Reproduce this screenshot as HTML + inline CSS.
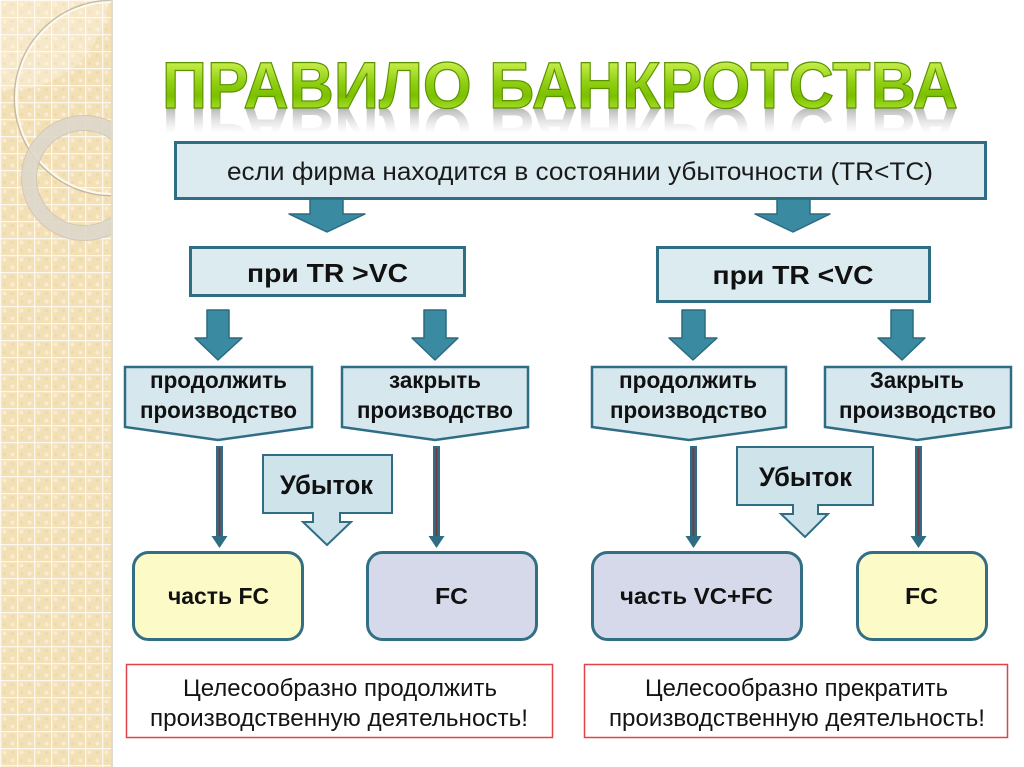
<!DOCTYPE html>
<html>
<head>
<meta charset="utf-8">
<style>
  html,body{margin:0;padding:0;background:#fff;}
  body{width:1024px;height:767px;overflow:hidden;}
  svg{display:block;}
  text{font-family:"Liberation Sans",sans-serif;}
</style>
</head>
<body>
<svg width="1024" height="767" viewBox="0 0 1024 767" xmlns="http://www.w3.org/2000/svg">
  <defs>
    <pattern id="pat" x="0" y="0" width="17" height="17" patternUnits="userSpaceOnUse">
      <rect width="17" height="17" fill="#f3e0b6"/>
      <circle cx="4.5" cy="4.5" r="2" fill="#f9ecd0"/>
      <circle cx="12.5" cy="12.5" r="2" fill="#f9ecd0"/>
      <circle cx="12.5" cy="4.5" r="1.5" fill="#efd9a8"/>
      <circle cx="4.5" cy="12.5" r="1.5" fill="#efd9a8"/>
      <rect x="0" y="0" width="17" height="1.3" fill="#fff" opacity="0.75"/>
      <rect x="0" y="0" width="1.3" height="17" fill="#fff" opacity="0.75"/>
    </pattern>
    <clipPath id="panel"><rect x="0" y="0" width="111" height="767"/></clipPath>
    <linearGradient id="tg" x1="0" y1="60" x2="0" y2="108" gradientUnits="userSpaceOnUse">
      <stop offset="0" stop-color="#cdf250"/>
      <stop offset="0.45" stop-color="#92d014"/>
      <stop offset="0.75" stop-color="#7cc000"/>
      <stop offset="1" stop-color="#a2dc24"/>
    </linearGradient>
    <linearGradient id="rg" x1="0" y1="108" x2="0" y2="82" gradientUnits="userSpaceOnUse">
      <stop offset="0" stop-color="#a8a8a8" stop-opacity="0.85"/>
      <stop offset="1" stop-color="#d8d8d8" stop-opacity="0"/>
    </linearGradient>
  </defs>

  <!-- left decorative panel -->
  <rect x="0" y="0" width="111" height="767" fill="url(#pat)"/>
  <g clip-path="url(#panel)">
    <circle cx="10" cy="-10" r="100" fill="#fff" opacity="0.25"/>
    <circle cx="112" cy="98" r="97" fill="none" stroke="#a89c88" stroke-width="3" opacity="0.6"/>
    <circle cx="112" cy="98" r="96" fill="none" stroke="#fffaf0" stroke-width="2"/>
    <circle cx="84" cy="178" r="55" fill="none" stroke="#ddd7cb" stroke-width="15" opacity="0.9"/>
    <circle cx="84" cy="178" r="62.5" fill="none" stroke="#c9bfad" stroke-width="1" opacity="0.7"/>
    <circle cx="84" cy="178" r="47.5" fill="none" stroke="#c9bfad" stroke-width="1" opacity="0.7"/>
  </g>
  <rect x="111" y="0" width="2" height="767" fill="#d8d2c6" opacity="0.8"/>

  <!-- title -->
  <g transform="translate(0,216) scale(1,-1)">
    <text x="162" y="108" font-size="66" font-weight="bold" textLength="796" lengthAdjust="spacingAndGlyphs" fill="url(#rg)">ПРАВИЛО БАНКРОТСТВА</text>
  </g>
  <text x="162" y="108" font-size="66" font-weight="bold" textLength="796" lengthAdjust="spacingAndGlyphs" fill="url(#tg)" stroke="#5a9200" stroke-width="1.2">ПРАВИЛО БАНКРОТСТВА</text>

  <!-- top box -->
  <rect x="175.5" y="142.5" width="810" height="56" fill="#dcebf0" stroke="#2f6d84" stroke-width="3"/>
  <text x="227" y="180" font-size="25" textLength="706" lengthAdjust="spacingAndGlyphs" fill="#1a1a1a">если фирма находится в состоянии убыточности (TR&lt;TC)</text>

  <!-- top arrows -->
  <g fill="#3a8aa2" stroke="#2a6b80" stroke-width="1.5" stroke-linejoin="round">
    <path d="M310,199 H343 V214 H365 L327,232 L289,214 H310 Z"/>
    <path d="M777,199 H810 V214 H830 L793,232 L755,214 H777 Z"/>
  </g>

  <!-- при boxes -->
  <rect x="190.5" y="247.5" width="274" height="48" fill="#dcebf0" stroke="#2f6d84" stroke-width="3"/>
  <text x="327.5" y="282" font-size="26" font-weight="bold" text-anchor="middle" textLength="161" lengthAdjust="spacingAndGlyphs" fill="#111">при TR &gt;VC</text>
  <rect x="657.5" y="247.5" width="272" height="54" fill="#dcebf0" stroke="#2f6d84" stroke-width="3"/>
  <text x="793" y="284" font-size="26" font-weight="bold" text-anchor="middle" textLength="161" lengthAdjust="spacingAndGlyphs" fill="#111">при TR &lt;VC</text>

  <!-- second level arrows -->
  <g fill="#3a8aa2" stroke="#2a6b80" stroke-width="1.5" stroke-linejoin="round">
    <path d="M207,310 H229 V338 H242 L218,360 L195,338 H207 Z"/>
    <path d="M424,310 H446 V338 H458 L435,360 L412,338 H424 Z"/>
    <path d="M682,310 H705 V338 H717 L693,360 L669,338 H682 Z"/>
    <path d="M891,310 H913 V338 H925 L902,360 L878,338 H891 Z"/>
  </g>

  <!-- pentagons -->
  <g fill="#d6e8ee" stroke="#2f6d84" stroke-width="2.5" stroke-linejoin="miter">
    <path d="M125,367 H312 V427 L218,440 L125,427 Z"/>
    <path d="M342,367 H528 V427 L435,440 L342,427 Z"/>
    <path d="M592,367 H786 V427 L689,440 L592,427 Z"/>
    <path d="M825,367 H1011 V427 L917,440 L825,427 Z"/>
  </g>
  <g font-size="23" font-weight="bold" fill="#111" text-anchor="middle">
    <text x="218.5" y="388" textLength="137" lengthAdjust="spacingAndGlyphs">продолжить</text>
    <text x="218.5" y="418" textLength="157" lengthAdjust="spacingAndGlyphs">производство</text>
    <text x="435" y="388" textLength="92" lengthAdjust="spacingAndGlyphs">закрыть</text>
    <text x="435" y="418" textLength="156" lengthAdjust="spacingAndGlyphs">производство</text>
    <text x="688" y="388" textLength="138" lengthAdjust="spacingAndGlyphs">продолжить</text>
    <text x="688.5" y="418" textLength="157" lengthAdjust="spacingAndGlyphs">производство</text>
    <text x="917" y="388" textLength="94" lengthAdjust="spacingAndGlyphs">Закрыть</text>
    <text x="917.5" y="418" textLength="157" lengthAdjust="spacingAndGlyphs">производство</text>
  </g>

  <!-- connector lines -->
  <g>
    <g stroke="#2f6d84" stroke-width="7">
      <line x1="219.5" y1="446" x2="219.5" y2="540"/>
      <line x1="436.5" y1="446" x2="436.5" y2="540"/>
      <line x1="693.5" y1="446" x2="693.5" y2="540"/>
      <line x1="918.5" y1="446" x2="918.5" y2="540"/>
    </g>
    <g stroke="#7a3a44" stroke-width="2">
      <line x1="219.5" y1="448" x2="219.5" y2="538"/>
      <line x1="436.5" y1="448" x2="436.5" y2="538"/>
      <line x1="693.5" y1="448" x2="693.5" y2="538"/>
      <line x1="918.5" y1="448" x2="918.5" y2="538"/>
    </g>
    <g fill="#2f6d84">
      <path d="M211.5,536 H227.5 L219.5,548 Z"/>
      <path d="M428.5,536 H444.5 L436.5,548 Z"/>
      <path d="M685.5,536 H701.5 L693.5,548 Z"/>
      <path d="M910.5,536 H926.5 L918.5,548 Z"/>
    </g>
  </g>

  <!-- Убыток callouts -->
  <g fill="#cfe3ea" stroke="#2f6d84" stroke-width="2" stroke-linejoin="miter">
    <path d="M263,455 H392 V513 H340 V522 H351 L327,545 L303,522 H313 V513 H263 Z"/>
    <path d="M737,447 H873 V505 H818 V514 H828 L805,537 L781,514 H793 V505 H737 Z"/>
  </g>
  <text x="326.5" y="494" font-size="27" font-weight="bold" text-anchor="middle" textLength="93" lengthAdjust="spacingAndGlyphs" fill="#111">Убыток</text>
  <text x="805.5" y="486" font-size="27" font-weight="bold" text-anchor="middle" textLength="93" lengthAdjust="spacingAndGlyphs" fill="#111">Убыток</text>

  <!-- result boxes -->
  <g stroke="#336f84" stroke-width="3">
    <rect x="133.5" y="552.5" width="169" height="87" rx="15" fill="#fcfac6"/>
    <rect x="367.5" y="552.5" width="169" height="87" rx="15" fill="#d6d9ea"/>
    <rect x="592.5" y="552.5" width="209" height="87" rx="15" fill="#d6d9ea"/>
    <rect x="857.5" y="552.5" width="129" height="87" rx="15" fill="#fcfac6"/>
  </g>
  <g font-size="23" font-weight="bold" fill="#111" text-anchor="middle">
    <text x="218.5" y="604" textLength="101" lengthAdjust="spacingAndGlyphs">часть FC</text>
    <text x="451.5" y="604" textLength="33" lengthAdjust="spacingAndGlyphs">FC</text>
    <text x="696.5" y="604" textLength="153" lengthAdjust="spacingAndGlyphs">часть VC+FC</text>
    <text x="921.5" y="604" textLength="33" lengthAdjust="spacingAndGlyphs">FC</text>
  </g>

  <!-- conclusion boxes -->
  <g fill="#fff" stroke="#e0434c" stroke-width="1.5">
    <rect x="126.5" y="664.5" width="426" height="73"/>
    <rect x="584.5" y="664.5" width="423" height="73"/>
  </g>
  <g font-size="24" fill="#141414" text-anchor="middle">
    <text x="340" y="696" textLength="314" lengthAdjust="spacingAndGlyphs">Целесообразно продолжить</text>
    <text x="339" y="726" textLength="378" lengthAdjust="spacingAndGlyphs">производственную деятельность!</text>
    <text x="796.5" y="696" textLength="303" lengthAdjust="spacingAndGlyphs">Целесообразно прекратить</text>
    <text x="797" y="726" textLength="376" lengthAdjust="spacingAndGlyphs">производственную деятельность!</text>
  </g>
</svg>
</body>
</html>
